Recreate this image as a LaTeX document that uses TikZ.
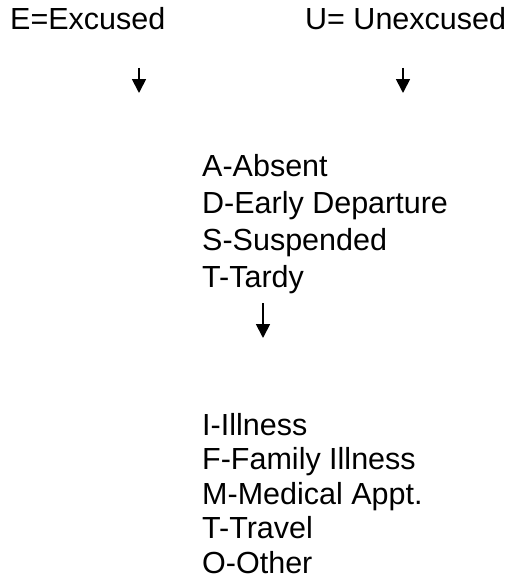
\documentclass[tikz,border=0pt]{standalone}
\usepackage{fontspec}
\setmainfont{Liberation Sans}
\usetikzlibrary{arrows.meta}
\begin{document}
\begin{tikzpicture}[x=1pt,y=-1pt,
  lbl/.style={anchor=base west,inner sep=0pt,font=\fontsize{30.5}{37}\selectfont},
  arr/.style={line width=1.8pt,-{Triangle[width=14pt,length=14pt]}}]
\useasboundingbox (0,0) rectangle (517,586);
\node[lbl] (E) at (10,30) {E=Excused};
\node[lbl] (U) at (305,30) {U= Unexcused};
\coordinate (e1) at (139,68);
\coordinate (e2) at (139,93);
\coordinate (u1) at (403,68);
\coordinate (u2) at (403,93);
\draw[arr] (e1) -- (e2);
\draw[arr] (u1) -- (u2);
\node[lbl] (a1) at (202,176) {A-Absent};
\node[lbl] (a2) at (202,213) {D-Early Departure};
\node[lbl] (a3) at (202,250) {S-Suspended};
\node[lbl] (a4) at (202,287) {T-Tardy};
\coordinate (t1) at (263,303);
\coordinate (t2) at (263,338);
\draw[arr] (t1) -- (t2);
\node[lbl] (b1) at (202,435) {I-Illness};
\node[lbl] (b2) at (202,469.5) {F-Family Illness};
\node[lbl] (b3) at (202,504) {M-Medical Appt.};
\node[lbl] (b4) at (202,538.5) {T-Travel};
\node[lbl] (b5) at (202,573) {O-Other};
\end{tikzpicture}
\end{document}
